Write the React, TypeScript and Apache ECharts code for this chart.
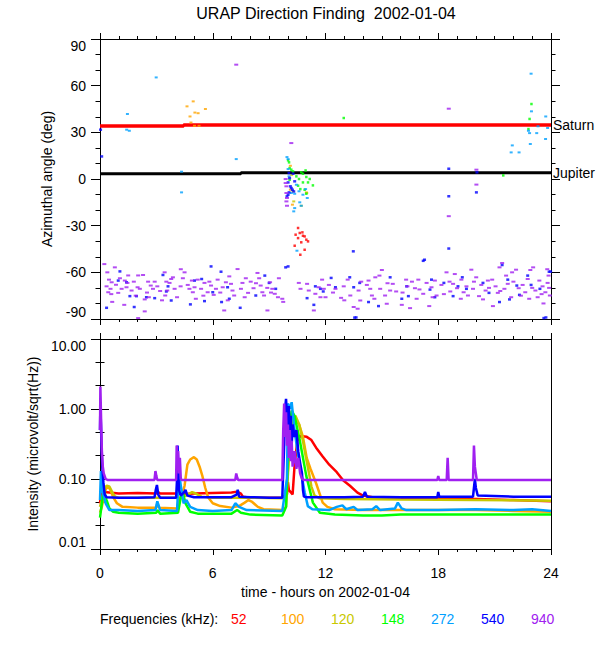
import React, { useEffect, useRef } from "react";
import * as echarts from "echarts";

// ---------- legend / categories ----------
const freqLabels = ["52", "100", "120", "148", "272", "540", "940"];
const freqColors = ["#ff0000", "#ffa500", "#c8c800", "#00ff00", "#00a0ff", "#0000ff", "#a020f0"];

// ---------- top panel: azimuth angle (hours, deg) ----------
const saturnLine = [[0, 34.1], [4.45, 34.1], [4.45, 34.7], [24, 34.7]];
const jupiterLine = [[0, 3.4], [7.5, 3.4], [7.5, 4.0], [24, 4.0]];

const az52 = [
  [10.54, -31.5], [10.41, -35.8], [10.63, -34.7], [10.77, -34.3], [10.54, -38], [10.89, -36.9],
  [10.98, -39], [11.07, -40.1], [10.71, -40.7], [10.36, -42.9], [10.89, -45.5], [10.66, -48.7], [10.8, -36.5],
];
const az100 = [
  [4.63, 46.7], [4.96, 49.9], [4.79, 40.2], [4.84, 36.3], [5.05, 42.7], [5.22, 42.3], [5.61, 45],
  [5.03, 34.2], [5.27, 34.2], [10.13, 8.5], [10.13, -6.9], [10.98, -8.6], [10.24, -16.5],
];
const az120 = [[10.27, -7.9], [10.31, -14.4], [10.71, -17.2], [11.0, -9.0], [10.2, 2.5]];
const az148 = [
  [12.97, 39.2], [21.46, 2.3], [22.96, 48.2], [22.86, 38.6], [22.8, 32.1],
  [10.01, 12.0], [10.06, 10.7], [10.09, 7.0], [10.18, 6.0], [10.71, 4.3], [10.8, 3.4], [10.94, 5.5],
  [10.98, 1.3], [10.09, -0.5], [10.59, 0], [10.8, -2.2], [11.07, -2.2], [11.33, -4.1], [10.54, -4.3],
  [10.66, -6.5], [10.89, -6.9], [10.98, -9.5], [10.45, 1.7], [10.27, 4.9], [11.16, 0],
];
const az272 = [
  [2.99, 65.3], [1.46, 41.8], [1.42, 31.7], [1.56, 31], [7.25, 12.8], [4.34, 4.7], [4.34, -8.6],
  [21.94, 21.6], [21.88, 17.1], [22.3, 17.1], [22.9, 22.5], [22.94, 67.7], [22.96, 43.5], [22.8, 31],
  [22.86, 29.5], [23.24, 29.5], [23.31, 33.9], [23.72, 40.2], [23.82, 32.8], [23.71, 25.7],
  [9.95, 14.1], [10.01, 12.8], [10.01, 6.4], [10.06, 1.7], [10.18, -9.0], [10.36, -9.5], [10.63, -15.0],
  [10.36, -18.7], [10.31, -20.8], [10.45, -3.7], [10.8, -10.1], [11.03, -12.2], [10.59, -7.9],
  [10.71, -17.2], [10.94, -6.5], [10.48, -46.1],
];
const az540 = [
  [0.03, 31.7], [0.09, 14.5], [18.56, 6.6], [18.56, -11.1], [18.56, -44.7], [17.27, -51.9], [13.48, -46.5],
  [13.63, -89], [20.06, 4.3], [20.03, -8.6], [23.73, -89], [10.01, -56.2], [23.98, -59.5],
  [10.01, -2.2], [10.13, -4.7], [10.24, -6.9], [10.06, -8.6], [10.01, -10.1], [9.95, -11.2], [10.06, 3.8],
  [10.27, 3.4], [10.18, -5.8], [10.36, -1.5], [10.09, 0.6], [10.31, -8.0],
  [0.35, -82.8], [1.06, -59.4], [0.97, -65.3], [1.41, -66.4], [1.59, -75.3], [1.94, -75.3], [1.82, -82.3],
  [2.47, -76], [2.91, -76.6], [3.35, -61.7], [3.53, -72.3], [3.62, -69], [3.79, -78.1], [4.81, -80.6],
  [5.03, -65.3], [5.41, -64.3], [5.56, -78.5], [5.91, -56.2], [6.0, -72.8], [6.44, -59.6], [6.47, -79.1],
  [6.79, -69.6], [6.88, -77], [7.46, -82.8], [8.29, -74.9], [8.77, -62.1], [9.0, -66.8], [9.35, -70.6],
  [9.88, -56.8], [11.02, -76.6], [11.38, -80.9], [11.46, -69], [11.73, -70.6],
  [11.88, -72.3], [12.3, -63.6], [12.53, -69.6], [13.29, -63.2], [13.5, -69.6], [13.82, -66.8],
  [13.55, -89.1], [14.29, -79.1], [14.82, -81.7], [15.44, -63.2], [16.06, -77], [16.32, -69],
  [16.41, -75.3], [17.2, -52.6], [17.56, -71.1], [17.64, -64.7], [17.82, -76], [18.3, -66.8],
  [18.79, -75.3], [19.05, -69], [19.28, -63.2], [19.5, -70.6], [20.38, -66.8], [20.7, -73.2],
  [21.26, -79.1], [21.4, -55.3], [21.7, -64.7], [21.79, -77.4], [22.18, -68.5], [22.32, -74.5],
  [22.76, -62.1], [22.94, -68.1], [23.41, -70.6], [23.62, -89.4], [23.9, -59.6],
];
const az940 = [
  [7.25, 73.5], [18.56, 45.2], [18.56, -23.9], [20.03, 6], [20.03, -3.6], [10.18, 23.1],
  [9.88, -0.03], [9.92, -4.7], [9.92, -9.0], [9.92, -14.4], [9.95, -17.2], [9.88, -2.6], [9.95, -12.2],
  [0.23, -54.7], [0.39, -60], [0.48, -64.7], [0.62, -66.4], [0.35, -69], [0.56, -70.6], [0.44, -72.8],
  [0.65, -79], [0.79, -56.8], [1.06, -63.8], [1.32, -65.3], [1.46, -66.8], [1.41, -69.6], [1.15, -70.6],
  [0.97, -73.2], [1.29, -80.9], [1.5, -62], [2.03, -62], [2.29, -61.7], [2.0, -69.6], [2.12, -70.6],
  [1.68, -71.7], [2.03, -89.4], [2.38, -77.4], [2.38, -85.1], [2.56, -66], [2.7, -68.5], [2.91, -66],
  [2.82, -70.6], [3.05, -69], [3.44, -60], [3.53, -66], [3.7, -66.8], [3.58, -71.7], [3.79, -64.3],
  [3.88, -63.2], [3.47, -74.9], [3.97, -70.6], [4.29, -69], [4.41, -63.8], [4.5, -60], [4.67, -68.1],
  [4.89, -65.3], [5.03, -69.6], [4.76, -70.6], [5.2, -64.7], [4.94, -72.8], [5.38, -70.6], [5.56, -66.8],
  [5.82, -66], [5.91, -68.5], [5.73, -72.8], [6.05, -74.5], [6.17, -70.6], [6.26, -64.7], [6.53, -69.6],
  [6.61, -84.5], [6.7, -66.4], [6.88, -62.6], [6.97, -67.4], [7.05, -71.7], [7.14, -74.9], [7.32, -57.9],
  [7.58, -66.8], [7.5, -70.6], [7.76, -63.8], [7.88, -73.2], [8.02, -66], [8.17, -70.2], [8.38, -60.4],
  [8.47, -63.8], [8.55, -68.5], [8.64, -72.8], [8.73, -74.9], [8.91, -84.5], [9.05, -66.4], [9.17, -70.6],
  [9.3, -73.8], [9.52, -63.8], [9.47, -76], [9.7, -77], [9.75, -79],
  [0.85, -68], [1.8, -66], [2.5, -73], [3.2, -72], [4.1, -76], [5.5, -75], [6.4, -73], [7.7, -76],
  [8.3, -67], [9.1, -73], [2.6, -76], [3.3, -78], [5.1, -77], [6.8, -78], [8.9, -70], [0.6, -74],
  [4.3, -58], [1.9, -75],
  [10.58, -66.8], [10.67, -70.6], [11.02, -67.4], [11.11, -71.7], [11.38, -84.5], [11.46, -73.8],
  [11.64, -69.6], [11.82, -64.7], [11.73, -76], [11.91, -70.6], [12.0, -76], [12.18, -68.1],
  [12.53, -70.6], [12.83, -76.4], [12.97, -69], [13.18, -64.7], [13.32, -74.9], [13.5, -82.3],
  [13.71, -83.4], [13.76, -71.7], [13.85, -78.1], [14.2, -68.1], [14.29, -65.3], [14.38, -70.6],
  [14.47, -74.9], [14.65, -63.2], [14.87, -62.1], [15.0, -58.5], [14.91, -70.6], [15.17, -74.9],
  [15.26, -80.2], [15.44, -71.7], [15.58, -67.4], [15.76, -72.3], [16.06, -80.9], [16.29, -64.7],
  [16.36, -69], [16.5, -83], [16.76, -70.2], [16.85, -77], [16.94, -64.7], [17.2, -73.8], [17.38, -66.8],
  [17.52, -81.7], [17.64, -69.6], [17.82, -65.3], [17.91, -74.9], [18.17, -68.1], [18.44, -60],
  [18.64, -72.3], [18.79, -67.4], [18.88, -61.1], [19.0, -70.2], [19.23, -64.7], [19.35, -72.8],
  [19.5, -69], [19.58, -74.9], [19.76, -58.3], [19.85, -70.6], [20.02, -63.2], [20.17, -75.3],
  [20.29, -68.1], [20.38, -77.4], [20.52, -71.7], [20.64, -65.3], [20.87, -64.7], [20.91, -81.7],
  [21.05, -69], [21.17, -73.2], [21.26, -56.8], [21.4, -54], [21.52, -70.6], [21.61, -62.1],
  [21.7, -67.4], [21.88, -76], [21.93, -60], [22.14, -58.3], [22.28, -70.2], [22.49, -68.1],
  [22.63, -72.8], [22.76, -64.3], [22.84, -77], [23.05, -56.8], [23.17, -71.7], [23.29, -76],
  [23.38, -65.3], [23.55, -69], [23.7, -72.8], [23.82, -66.8], [23.87, -62.1], [23.94, -74.9],
  [12.4, -73], [13.0, -78], [13.9, -66], [14.6, -77], [15.3, -67], [16.1, -73], [16.6, -66], [17.0, -71],
  [17.7, -76], [18.3, -74], [18.6, -66], [19.2, -77], [19.9, -66], [20.7, -70], [21.3, -72], [22.0, -66],
  [22.4, -75], [23.0, -70], [23.5, -74], [23.9, -70], [22.9, -58.5], [23.8, -58], [23.6, -80],
];

// ---------- bottom panel: intensity (hours, microvolt/sqrt(Hz)) ----------
const int52 = [
  [0, 0.045], [0.05, 0.06], [0.2, 0.065], [0.5, 0.064], [1, 0.062], [2, 0.063], [3, 0.062], [3.05, 0.066],
  [3.2, 0.062], [4, 0.062], [4.5, 0.061], [5, 0.062], [6, 0.063], [7, 0.064], [7.3, 0.066], [7.5, 0.062],
  [7.6, 0.056], [8, 0.054], [9, 0.054], [9.7, 0.054], [9.95, 0.06], [10.0, 0.09], [10.05, 0.07],
  [10.25, 0.06], [10.35, 0.15], [10.5, 0.35], [10.65, 0.41], [11.0, 0.4], [11.25, 0.36], [11.5, 0.28],
  [11.85, 0.21], [12.2, 0.16], [12.6, 0.125], [12.95, 0.095], [13.3, 0.08], [13.7, 0.064], [14.0, 0.058],
  [14.5, 0.055], [16, 0.054], [18, 0.053], [20, 0.052], [22, 0.05], [24, 0.048],
];
const int100 = [
  [0, 0.033], [0.1, 0.04], [0.25, 0.065], [0.4, 0.08], [0.55, 0.07], [0.7, 0.055], [0.9, 0.045],
  [1.2, 0.04], [2, 0.039], [3, 0.039], [3.05, 0.045], [3.15, 0.039], [4.1, 0.038], [4.2, 0.05],
  [4.35, 0.055], [4.5, 0.08], [4.65, 0.16], [4.8, 0.19], [5.0, 0.205], [5.15, 0.19], [5.3, 0.15],
  [5.45, 0.11], [5.6, 0.075], [5.75, 0.055], [6.0, 0.045], [6.4, 0.041], [7.0, 0.039], [7.4, 0.041],
  [7.7, 0.046], [7.9, 0.05], [8.1, 0.047], [8.4, 0.04], [8.7, 0.037], [9.7, 0.036], [9.9, 0.04],
  [10.05, 0.2], [10.2, 0.5], [10.4, 0.7], [10.6, 0.6], [10.8, 0.4], [11.0, 0.2], [11.2, 0.14],
  [11.5, 0.087], [11.85, 0.046], [12.1, 0.04], [12.5, 0.037], [14, 0.036], [16, 0.036], [18, 0.036],
  [20, 0.036], [22, 0.035], [24, 0.034],
];
const int120 = [
  [0, 0.04], [0.1, 0.05], [0.25, 0.075], [0.35, 0.08], [0.5, 0.078], [0.65, 0.065], [0.8, 0.056],
  [1.0, 0.054], [4.2, 0.054], [4.6, 0.058], [4.9, 0.065], [5.1, 0.062], [5.4, 0.056], [6, 0.054],
  [8, 0.054], [9.7, 0.053], [9.9, 0.06], [10.1, 0.3], [10.25, 0.7], [10.4, 0.8], [10.6, 0.6],
  [10.8, 0.35], [10.95, 0.21], [11.15, 0.11], [11.25, 0.078], [11.42, 0.058], [11.7, 0.053],
  [13, 0.052], [16, 0.051], [20, 0.05], [24, 0.049],
];
const int148 = [
  [0, 0.028], [0.1, 0.045], [0.2, 0.07], [0.35, 0.05], [0.5, 0.038], [0.7, 0.034], [1, 0.033],
  [2, 0.032], [3, 0.033], [3.05, 0.036], [3.2, 0.032], [4.15, 0.033], [4.3, 0.055], [4.4, 0.065],
  [4.55, 0.045], [4.8, 0.034], [5.2, 0.032], [7, 0.032], [7.3, 0.036], [7.5, 0.033], [8, 0.031],
  [9.7, 0.03], [9.9, 0.04], [10.05, 0.4], [10.2, 0.95], [10.35, 0.8], [10.62, 0.37], [10.98, 0.11],
  [11.33, 0.046], [11.7, 0.033], [12.5, 0.031], [14, 0.03], [15, 0.03], [16, 0.031], [18, 0.031],
  [20, 0.031], [22, 0.031], [24, 0.031],
];
const int272 = [
  [0, 0.05], [0.05, 0.13], [0.12, 0.07], [0.3, 0.045], [0.5, 0.036], [1, 0.036], [2, 0.035],
  [2.95, 0.036], [3.05, 0.048], [3.2, 0.036], [4.1, 0.035], [4.2, 0.13], [4.3, 0.08], [4.45, 0.045],
  [4.6, 0.05], [4.8, 0.04], [5.2, 0.036], [6, 0.035], [7.0, 0.036], [7.2, 0.045], [7.4, 0.04],
  [7.8, 0.036], [9.7, 0.035], [9.95, 0.1], [10.0, 1.2], [10.1, 1.0], [10.2, 1.25], [10.35, 0.5],
  [10.53, 0.23], [10.71, 0.12], [10.9, 0.063], [11.06, 0.041], [11.3, 0.037], [12.2, 0.036],
  [12.6, 0.04], [12.9, 0.042], [13.1, 0.037], [13.5, 0.04], [13.7, 0.036], [14.5, 0.037],
  [14.7, 0.041], [14.9, 0.036], [15.7, 0.038], [15.85, 0.046], [16.05, 0.038], [16.3, 0.036],
  [18, 0.036], [20, 0.037], [22, 0.036], [23, 0.037], [24, 0.035],
];
const int540 = [
  [0, 0.5], [0.02, 1.1], [0.05, 0.6], [0.08, 0.3], [0.12, 0.15], [0.18, 0.09], [0.25, 0.06],
  [0.35, 0.055], [1, 0.054], [2, 0.054], [2.9, 0.055], [2.97, 0.07], [3.03, 0.082], [3.1, 0.06],
  [3.2, 0.054], [4.05, 0.054], [4.1, 0.1], [4.13, 0.3], [4.16, 0.15], [4.2, 0.07], [4.3, 0.058],
  [4.5, 0.066], [4.55, 0.07], [4.65, 0.058], [5, 0.055], [6, 0.055], [7, 0.055], [7.27, 0.06],
  [7.33, 0.07], [7.4, 0.056], [8, 0.055], [9, 0.054], [9.7, 0.054], [9.8, 0.3], [9.85, 1.0],
  [9.9, 1.4], [9.95, 0.8], [10.0, 0.5], [10.05, 1.1], [10.1, 0.4], [10.15, 0.8], [10.2, 0.3],
  [10.25, 0.6], [10.35, 0.4], [10.45, 0.5], [10.55, 0.25], [10.65, 0.17], [10.75, 0.12], [10.8, 0.07],
  [10.85, 0.056], [11, 0.055], [12, 0.055], [13, 0.055], [14, 0.056], [14.1, 0.065], [14.2, 0.056],
  [16, 0.055], [17.95, 0.055], [18, 0.065], [18.05, 0.056], [19.85, 0.056], [19.9, 0.075],
  [19.95, 0.1], [20.0, 0.075], [20.1, 0.058], [22, 0.056], [24, 0.056],
];
const int940 = [
  [0, 0.5], [0.02, 2.1], [0.04, 1.2], [0.07, 0.5], [0.1, 0.25], [0.15, 0.15], [0.2, 0.12], [0.3, 0.1],
  [0.4, 0.097], [2.9, 0.097], [2.95, 0.13], [3.0, 0.11], [3.05, 0.097], [4.05, 0.097], [4.08, 0.3],
  [4.12, 0.15], [4.16, 0.25], [4.2, 0.12], [4.25, 0.2], [4.3, 0.1], [4.35, 0.097], [7.2, 0.097],
  [7.25, 0.12], [7.3, 0.105], [7.35, 0.097], [9.7, 0.097], [9.75, 0.5], [9.8, 1.2], [9.85, 0.4],
  [9.9, 0.9], [9.95, 0.3], [10.0, 0.6], [10.05, 0.2], [10.1, 0.5], [10.15, 0.18], [10.2, 0.35],
  [10.25, 0.15], [10.35, 0.25], [10.45, 0.14], [10.55, 0.2], [10.65, 0.12], [10.75, 0.1],
  [10.85, 0.097], [17.95, 0.097], [18.0, 0.11], [18.05, 0.097], [18.45, 0.097], [18.5, 0.2],
  [18.55, 0.097], [19.85, 0.097], [19.9, 0.3], [19.95, 0.15], [20.0, 0.12], [20.05, 0.097], [24, 0.097],
];

const azData = [az52, az100, az120, az148, az272, az540, az940];
const azSizes = [[2.5, 2.5], [3, 2], [3, 2], [2.5, 2.5], [3, 2], [3, 2.5], [4, 2]];
const intData = [int52, int100, int120, int148, int272, int540, int940];
const xTickLabels = ["0", "6", "12", "18", "24"];

const FONT = "'Liberation Sans', Arial, sans-serif";

export default function App() {
  const ref = useRef<HTMLDivElement>(null);
  useEffect(() => {
    if (!ref.current) return;
    const chart = echarts.init(ref.current, null, { renderer: "svg" });
    const black = "#000";
    const xCommon = (grid: number, pos: string, labels: boolean, name?: string) => ({
      type: "value",
      gridIndex: grid,
      position: pos,
      min: 0,
      max: 24,
      interval: 6,
      axisLine: { show: true, onZero: false, lineStyle: { color: black, width: 1 } },
      axisTick: { show: true, inside: false, length: 6, lineStyle: { color: black } },
      minorTick: { show: true, splitNumber: 6, length: 3, lineStyle: { color: black } },
      splitLine: { show: false },
      axisLabel: {
        show: labels,
        color: black,
        fontSize: 14,
        fontFamily: FONT,
        margin: 17,
        formatter: (v: number) => xTickLabels[Math.round(v / 6)] ?? "",
      },
      name: name ?? "",
      nameLocation: "middle",
      nameGap: 36,
      nameTextStyle: { color: black, fontSize: 14, fontFamily: FONT },
    });
    const yAngle = (pos: string, labels: boolean, name?: string) => ({
      type: "value",
      gridIndex: 0,
      position: pos,
      min: -90,
      max: 90,
      interval: 30,
      axisLine: { show: true, onZero: false, lineStyle: { color: black, width: 1 } },
      axisTick: { show: true, inside: false, length: 9, lineStyle: { color: black } },
      minorTick: { show: true, splitNumber: 3, length: 4.5, lineStyle: { color: black } },
      splitLine: { show: false },
      axisLabel: {
        show: labels,
        color: black,
        fontSize: 14,
        fontFamily: FONT,
        margin: 14,
        verticalAlignMaxLabel: "top",
        verticalAlignMinLabel: "bottom",
      },
      name: name ?? "",
      nameLocation: "middle",
      nameGap: 46,
      nameRotate: 90,
      nameTextStyle: { color: black, fontSize: 14, fontFamily: FONT },
    });
    const yLog = (pos: string, labels: boolean, name?: string) => ({
      type: "log",
      logBase: 10,
      gridIndex: 1,
      position: pos,
      min: 0.01,
      max: 10,
      axisLine: { show: true, onZero: false, lineStyle: { color: black, width: 1 } },
      axisTick: { show: false },
      minorTick: { show: false },
      splitLine: { show: false },
      axisLabel: {
        show: labels,
        color: black,
        fontSize: 14,
        fontFamily: FONT,
        margin: 14,
        verticalAlignMaxLabel: "top",
        verticalAlignMinLabel: "bottom",
        formatter: (v: number) => v.toFixed(2),
      },
      name: name ?? "",
      nameLocation: "middle",
      nameGap: 60,
      nameRotate: 90,
      nameTextStyle: { color: black, fontSize: 14, fontFamily: FONT },
    });
    // tick-only decade axis (log10 of the intensity) for decade + third-decade ticks
    const yLogTicks = (pos: string) => ({
      type: "value",
      gridIndex: 1,
      position: pos,
      min: -2,
      max: 1,
      interval: 1,
      axisLine: { show: false },
      axisTick: { show: true, inside: false, length: 9, lineStyle: { color: black } },
      minorTick: { show: true, splitNumber: 3, length: 4.5, lineStyle: { color: black } },
      splitLine: { show: false },
      axisLabel: { show: false },
    });

    const series: any[] = [];
    azData.forEach((d, i) => {
      series.push({
        type: "scatter",
        name: freqLabels[i],
        xAxisIndex: 0,
        yAxisIndex: 0,
        data: d,
        symbol: "rect",
        symbolSize: azSizes[i],
        itemStyle: { color: freqColors[i] },
        silent: true,
        z: 3,
      });
    });
    series.push({
      type: "line",
      name: "Saturn",
      xAxisIndex: 0,
      yAxisIndex: 0,
      data: saturnLine,
      showSymbol: false,
      lineStyle: { color: "#ff0000", width: 3.5 },
      endLabel: { show: true, formatter: "Saturn", color: black, fontSize: 14, fontFamily: FONT, distance: 2 },
      z: 2,
    });
    series.push({
      type: "line",
      name: "Jupiter",
      xAxisIndex: 0,
      yAxisIndex: 0,
      data: jupiterLine,
      showSymbol: false,
      lineStyle: { color: black, width: 3 },
      endLabel: { show: true, formatter: "Jupiter", color: black, fontSize: 14, fontFamily: FONT, distance: 2 },
      z: 2,
    });
    intData.forEach((d, i) => {
      series.push({
        type: "line",
        name: freqLabels[i] + " kHz",
        xAxisIndex: 3,
        yAxisIndex: 2,
        data: d,
        showSymbol: false,
        lineStyle: { color: freqColors[i], width: 2.5 },
        itemStyle: { color: freqColors[i] },
        z: 3,
      });
    });

    const legendTexts: any[] = [
      {
        type: "text",
        left: 100,
        top: 612,
        style: { text: "Frequencies (kHz):", fill: black, fontSize: 14, fontFamily: FONT },
      },
    ];
    freqLabels.forEach((f, i) => {
      legendTexts.push({
        type: "text",
        left: 231 + 50 * i,
        top: 612,
        style: { text: f, fill: freqColors[i], fontSize: 14, fontFamily: FONT },
      });
    });

    chart.setOption({
      animation: false,
      backgroundColor: "#fff",
      title: {
        text: "URAP Direction Finding  2002-01-04",
        left: 326,
        textAlign: "center",
        top: 5,
        padding: 0,
        textStyle: { color: black, fontSize: 16, fontWeight: "normal", fontFamily: FONT },
      },
      grid: [
        { left: 100, top: 39, width: 451, height: 280 },
        { left: 100, top: 339, width: 451, height: 210 },
      ],
      xAxis: [
        xCommon(0, "bottom", false),
        xCommon(0, "top", false),
        xCommon(1, "top", false),
        xCommon(1, "bottom", true, "time - hours on 2002-01-04"),
      ],
      yAxis: [
        yAngle("left", true, "Azimuthal angle (deg)"),
        yAngle("right", false),
        yLog("left", true, "Intensity (microvolt/sqrt(Hz))"),
        yLog("right", false),
        yLogTicks("left"),
        yLogTicks("right"),
      ],
      graphic: legendTexts,
      series,
    });
    return () => chart.dispose();
  }, []);
  return (
    <div
      ref={ref}
      style={{ position: "absolute", left: 0, top: 0, width: 600, height: 650, background: "#fff" }}
    />
  );
}
